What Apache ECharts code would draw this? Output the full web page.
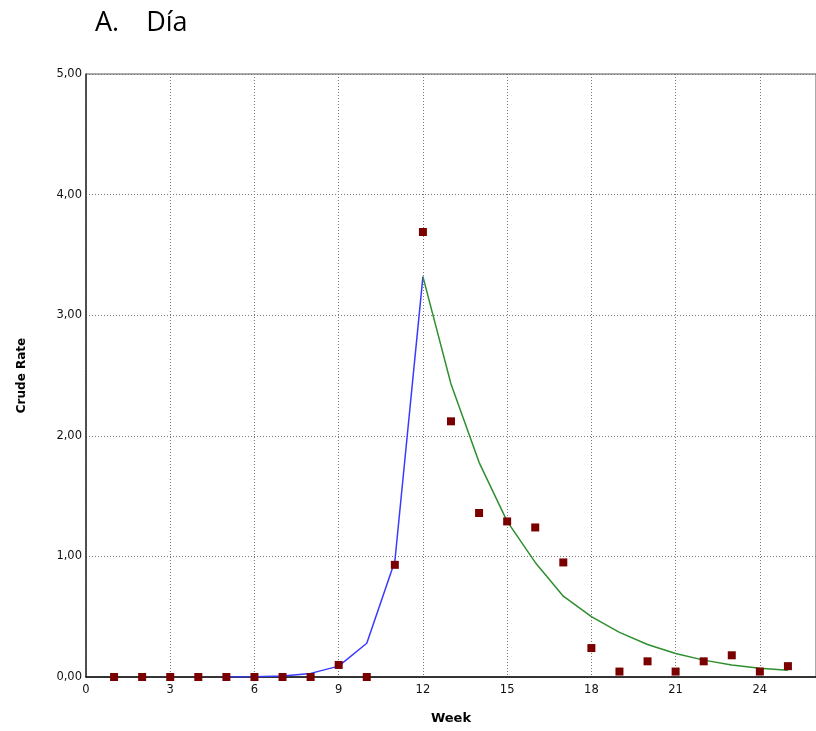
<!DOCTYPE html>
<html>
<head>
<meta charset="utf-8">
<script src="https://cdn.jsdelivr.net/npm/echarts@6/dist/echarts.min.js"></script>
<style>html,body{margin:0;padding:0;background:#fff}#c{width:816px;height:731px}</style>
</head>
<body>
<div id="c"></div>
<script>
const titleText = 'A.\u2003Día';
const xAxisName = 'Week';
const yAxisName = 'Crude Rate';
const weeks = [1,2,3,4,5,6,7,8,9,10,11,12,13,14,15,16,17,18,19,20,21,22,23,24,25];
const observed = [0,0,0,0,0,0,0,0,0.10,0,0.93,3.69,2.12,1.36,1.29,1.24,0.95,0.24,0.045,0.13,0.045,0.13,0.18,0.045,0.09];
const riseWeeks = [5,6,7,8,9,10,11,12];
const riseFit = [0,0.002,0.008,0.03,0.09,0.28,0.96,3.32];
const decayWeeks = [12,13,14,15,16,17,18,19,20,21,22,23,24,25];
const decayFit = [3.32,2.43,1.78,1.29,0.95,0.67,0.50,0.37,0.27,0.195,0.14,0.10,0.073,0.056];

const zip = (xs, ys) => xs.map((x, i) => [x, ys[i]]);
const chart = echarts.init(document.getElementById('c'), null, {renderer: 'canvas'});
const labelFont = {fontFamily: 'DejaVu Sans', fontSize: 11.5, color: '#111'};
chart.setOption({
  animation: false,
  backgroundColor: '#fff',
  title: {
    text: titleText, left: 90, top: 5,
    textStyle: {fontFamily: 'Open Sans', fontSize: 27, fontWeight: 'normal', color: '#000'}
  },
  grid: {left: 86, top: 74, right: -2, bottom: 54, show: true, borderColor: '#555', borderWidth: 1, containLabel: false},
  xAxis: {
    type: 'value', min: 0, max: 26, interval: 3,
    name: xAxisName, nameLocation: 'middle', nameGap: 35,
    nameTextStyle: {fontFamily: 'DejaVu Sans', fontSize: 13, fontWeight: 'bold', color: '#000'},
    axisLine: {show: true, lineStyle: {color: '#111', width: 1.5}},
    axisTick: {show: false},
    axisLabel: Object.assign({margin: 7, showMaxLabel: false,
      formatter: v => (v % 3 === 0 ? String(v) : '')}, labelFont),
    splitLine: {show: true, lineStyle: {color: '#777', type: [1, 2], width: 1}}
  },
  yAxis: {
    type: 'value', min: 0, max: 5, interval: 1,
    name: yAxisName, nameLocation: 'middle', nameGap: 58, nameRotate: 90,
    nameTextStyle: {fontFamily: 'DejaVu Sans', fontSize: 12, fontWeight: 'bold', color: '#000'},
    axisLine: {show: true, lineStyle: {color: '#333', width: 1.5}},
    axisTick: {show: false},
    axisLabel: Object.assign({margin: 4, formatter: v => v.toFixed(2).replace('.', ',')}, labelFont),
    splitLine: {show: true, lineStyle: {color: '#777', type: [1, 2], width: 1}}
  },
  series: [
    {type: 'line', data: zip(riseWeeks, riseFit), showSymbol: false, symbol: 'none',
     lineStyle: {color: '#3a3aff', width: 1.5}, z: 2},
    {type: 'line', data: zip(decayWeeks, decayFit), showSymbol: false, symbol: 'none',
     lineStyle: {color: '#2f8f2f', width: 1.5}, z: 2},
    {type: 'scatter', data: zip(weeks, observed), symbol: 'rect', symbolSize: 8,
     itemStyle: {color: '#7a0000', opacity: 1}, z: 3}
  ]
});
</script>
</body>
</html>
